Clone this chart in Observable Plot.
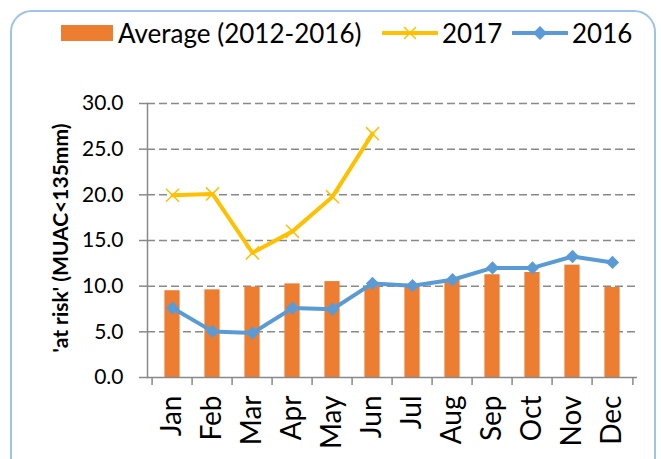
<!DOCTYPE html>
<html>
<head>
<meta charset="utf-8">
<script src="https://cdn.jsdelivr.net/npm/d3@7"></script>
<script src="https://cdn.jsdelivr.net/npm/@observablehq/plot@0.6"></script>
<style>
  html, body { margin: 0; padding: 0; background: #fff; }
  #wrap { position: relative; width: 661px; height: 459px; overflow: hidden; font-family: Lato, "Open Sans", sans-serif; }
  #frame { position: absolute; left: 10px; top: 10px; width: 646px; height: 470px; border: 2px solid #9DC3E6; border-radius: 22px; box-sizing: border-box; }
  #chart { position: absolute; left: 0; top: 0; }
  #legend { position: absolute; left: 0; top: 0; width: 661px; height: 60px; }
  .lg { position: absolute; font-size: 26px; line-height: 26px; color: #000; white-space: nowrap; }
  #ylabel { position: absolute; left: 60px; top: 238px; width: 320px; text-align: center; font-weight: bold; font-size: 21px; line-height: 24px; color: #000; white-space: nowrap; transform: translate(-50%, -50%) rotate(-90deg); }
</style>
</head>
<body>
<div id="wrap">
  <div id="frame"></div>
  <div id="chart"></div>
  <div id="legend"></div>
  <div id="ylabel"></div>
</div>
<script>
// ---- data ----
const months = ["Jan","Feb","Mar","Apr","May","Jun","Jul","Aug","Sep","Oct","Nov","Dec"];
const average = [9.5, 9.6, 9.9, 10.25, 10.5, 10.0, 10.2, 10.7, 11.25, 11.5, 12.3, 9.85];
const y2017 = [19.95, 20.1, 13.65, 16.0, 19.8, 26.7];
const y2016 = [7.6, 5.05, 4.87, 7.6, 7.47, 10.3, 10.05, 10.7, 12.0, 12.0, 13.25, 12.6];
const yTicks = [0, 5, 10, 15, 20, 25, 30];
const seriesNames = ["Average (2012-2016)", "2017", "2016"];
const yLabel = "'at risk' (MUAC<135mm)";

const colors = {avg: "#ED7D31", y17: "#FFC000", y16: "#5B9BD5"};
const axisGray = "#898989";

const W = 661, H = 459, mL = 147, mR = 24, mT = 103, mB = 82;
const bw = (W - mL - mR) / months.length;

const avgData = months.map((m, i) => ({month: m, value: average[i]}));
const d17 = y2017.map((v, i) => ({month: months[i], value: v}));
const d16 = y2016.map((v, i) => ({month: months[i], value: v}));

const chart = Plot.plot({
  width: W, height: H,
  marginLeft: mL, marginRight: mR, marginTop: mT, marginBottom: mB,
  style: {fontFamily: "Lato, 'Open Sans', sans-serif", color: "#000", background: "transparent", overflow: "visible"},
  x: {domain: months, padding: 0},
  y: {domain: [0, 30]},
  marks: [
    Plot.ruleY(yTicks.filter(d => d > 0), {stroke: axisGray, strokeWidth: 1.5, strokeDasharray: "8,4"}),
    Plot.barY(avgData, {x: "month", y: "value", fill: colors.avg, insetLeft: 12.4, insetRight: 12.4}),
    Plot.ruleY([0], {stroke: axisGray, strokeWidth: 1.5}),
    Plot.frame({anchor: "left", stroke: axisGray, strokeWidth: 1.5}),
    Plot.ruleX(months, {x: d => d, dx: -bw / 2, y1: 0, y2: 0, insetBottom: -8, stroke: axisGray, strokeWidth: 1.5}),
    Plot.ruleX([months[months.length - 1]], {x: d => d, dx: bw / 2, y1: 0, y2: 0, insetBottom: -8, stroke: axisGray, strokeWidth: 1.5}),
    Plot.axisY({ticks: yTicks, tickFormat: d => d.toFixed(1), tickSize: 8, tickPadding: 16, stroke: axisGray, strokeWidth: 1.5, fontSize: 21, label: null}),
    Plot.axisX({tickSize: 0, tickPadding: 18, tickRotate: -90, fontSize: 28, label: null}),
    Plot.line(d16, {x: "month", y: "value", stroke: colors.y16, strokeWidth: 4}),
    Plot.dot(d16, {x: "month", y: "value", symbol: "diamond2", r: 6, fill: colors.y16, stroke: "none"}),
    Plot.line(d17, {x: "month", y: "value", stroke: colors.y17, strokeWidth: 4}),
    Plot.dot(d17, {x: "month", y: "value", symbol: "times", r: 6, stroke: colors.y17, strokeWidth: 1.5})
  ]
});
document.getElementById("chart").appendChild(chart);

d3.select("#ylabel").text(yLabel);

// ---- legend ----
const legend = d3.select("#legend");
legend.append("div").style("position", "absolute").style("left", "61px").style("top", "25px")
  .style("width", "52px").style("height", "16px").style("background", colors.avg);
legend.append("div").attr("class", "lg").style("left", "118px").style("top", "20px").text(seriesNames[0]);

function lineKey(left, color, sym) {
  const svg = legend.append("svg").style("position", "absolute").style("left", left + "px").style("top", "23px")
    .attr("width", 56).attr("height", 20);
  svg.append("line").attr("x1", 1).attr("x2", 55).attr("y1", 10).attr("y2", 10)
    .attr("stroke", color).attr("stroke-width", 4).attr("stroke-linecap", "round");
  if (sym === "times") {
    svg.append("path").attr("d", "M22,4L34,16M22,16L34,4").attr("stroke", color).attr("stroke-width", 1.5);
  } else {
    svg.append("path").attr("d", "M28,3L35,10L28,17L21,10Z").attr("fill", color);
  }
}
lineKey(382, colors.y17, "times");
legend.append("div").attr("class", "lg").style("left", "442px").style("top", "20px").text(seriesNames[1]);
lineKey(512, colors.y16, "diamond");
legend.append("div").attr("class", "lg").style("left", "572px").style("top", "20px").text(seriesNames[2]);
</script>
</body>
</html>
